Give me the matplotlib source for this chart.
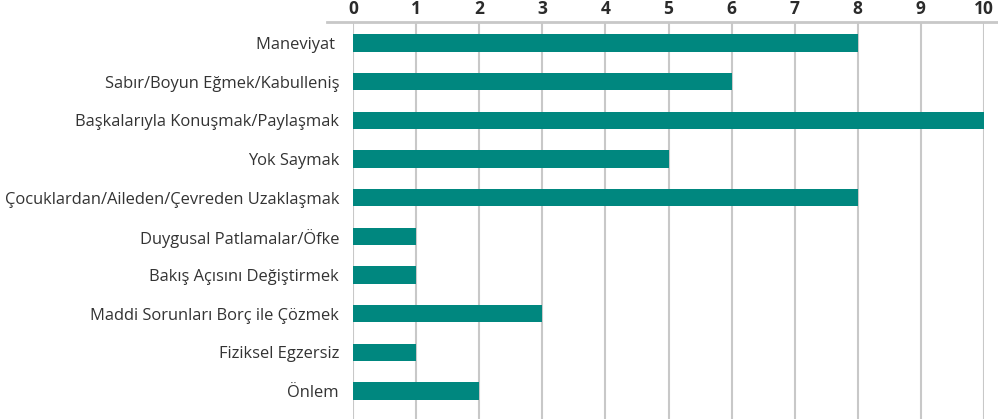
import matplotlib
matplotlib.use("Agg")
import matplotlib.pyplot as plt
from matplotlib.lines import Line2D

categories = [
    "Maneviyat ",
    "Sabır/Boyun Eğmek/Kabulleniş",
    "Başkalarıyla Konuşmak/Paylaşmak",
    "Yok Saymak",
    "Çocuklardan/Aileden/Çevreden Uzaklaşmak",
    "Duygusal Patlamalar/Öfke",
    "Bakış Açısını Değiştirmek",
    "Maddi Sorunları Borç ile Çözmek",
    "Fiziksel Egzersiz",
    "Önlem",
]
values = [8, 6, 10, 5, 8, 1, 1, 3, 1, 2]
ticks = [0, 1, 2, 3, 4, 5, 6, 7, 8, 9, 10]

W, H = 998, 419
fig = plt.figure(figsize=(W / 100, H / 100), dpi=100)
left = 353 / W
right = 984 / W
top = 1 - 22 / H
ax = fig.add_axes([left, 0, right - left, top])

bar_color = "#00877f"
grid_color = "#c8c8c8"
text_color = "#333333"

y = list(range(len(categories)))
ax.barh(y, values, height=0.45, color=bar_color, zorder=3)
ax.set_xlim(0, 10)
ax.set_ylim(9.724, -0.543)
ax.set_yticks(y)
ax.set_yticklabels(categories, fontsize=11.9, color=text_color, family="Open Sans")
ax.set_xticks(ticks)
ax.set_xticklabels([str(t) for t in ticks], fontsize=12.5, fontweight="bold",
                   color="#2b2b2b", family="Open Sans")
ax.xaxis.tick_top()
ax.tick_params(axis="x", length=0, pad=3)
ax.tick_params(axis="y", length=0, pad=10)
for s in ax.spines.values():
    s.set_visible(False)
ax.grid(axis="x", color=grid_color, linewidth=1.5, zorder=0)
ax.set_axisbelow(True)

fig.add_artist(Line2D([327 / W, 1.0], [top, top], transform=fig.transFigure,
                      color=grid_color, linewidth=2))

fig.savefig("out.png", dpi=100)
